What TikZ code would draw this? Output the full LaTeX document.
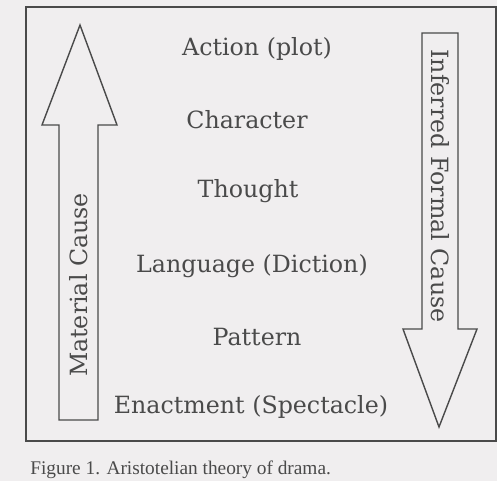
\documentclass[tikz,border=0pt]{standalone}
\usepackage{fontspec}
\setmainfont{DejaVu Serif}
\newfontfamily\captionfont{Liberation Serif}
\usepackage{xcolor}
\definecolor{paper}{HTML}{F0EEEF}
\definecolor{ink}{HTML}{4A4A4A}
\tikzset{
    level/.style={anchor=base, text=ink, font=\fontsize{13.5}{16}\selectfont},
    cause/.style={text=ink, font=\fontsize{13.5}{16}\selectfont, inner sep=0pt},
    bigarrow/.style={draw=ink, line width=0.8pt, line join=miter, fill=paper}
}

\begin{document}
\begin{tikzpicture}[x=0.02cm, y=-0.02cm]
                \clip (0,0) rectangle (497,481);
                \fill[paper] (0,0) rectangle (497,481);
                \draw[ink, line width=0.8pt] (26,7) rectangle (496,441);
                % material cause, pointing up
                \draw[bigarrow] (59,420) -- (59,125) -- (42,125) -- (80,25) -- (117,125) -- (98,125) -- (98,420) -- cycle;
                \node[cause, rotate=90] (material) at (79,285) {Material Cause};
                % inferred formal cause, pointing down
                \draw[bigarrow] (422,33) -- (458,33) -- (458,329) -- (477,329) -- (439,427) -- (403,329) -- (422,329) -- cycle;
                \node[cause, rotate=-90] (formal) at (440,186) {Inferred Formal Cause};
                % the six parts
                \node[level] (action) at (257,55) {Action (plot)};
                \node[level] (character) at (247,128) {Character};
                \node[level] (thought) at (248,197) {Thought};
                \node[level] (language) at (252,272) {Language (Diction)};
                \node[level] (pattern) at (257,345) {Pattern};
                \node[level] (enactment) at (251,413) {Enactment (Spectacle)};
                \node[anchor=base west, inner sep=0pt, text=ink, font=\captionfont\fontsize{11}{13}\selectfont] (caption) at (30,474) {Figure 1. Aristotelian theory of drama.};
            \end{tikzpicture}
\end{document}
